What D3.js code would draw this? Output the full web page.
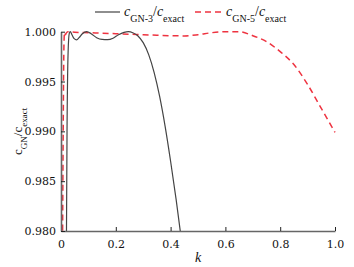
<!DOCTYPE html>
<html>
<head>
<meta charset="utf-8">
<script src="https://cdn.jsdelivr.net/npm/d3@7"></script>
<style>
  body { margin: 0; background: #fff; }
  svg { display: block; }
</style>
</head>
<body>
<div id="chart"></div>
<script>
// GN-3 ratio
const kGN3 = [0.019, 0.022, 0.026, 0.030, 0.034, 0.040, 0.048, 0.057, 0.066, 0.078, 0.094, 0.11, 0.13, 0.15, 0.17, 0.19, 0.21, 0.23, 0.246, 0.262, 0.28, 0.30, 0.32, 0.34, 0.36, 0.38, 0.40, 0.42, 0.44];
const vGN3 = [0.975, 0.990, 0.998, 0.9998, 1.0000, 0.9997, 0.9993, 0.99918, 0.9994, 0.9998, 1.0000, 0.9998, 0.9994, 0.99922, 0.9992, 0.99935, 0.9997, 0.99993, 1.0000, 0.9999, 0.9996, 0.9989, 0.9977, 0.9959, 0.9935, 0.9905, 0.9870, 0.9832, 0.9790];

// GN-5 ratio
const kGN5 = [0.005, 0.008, 0.011, 0.013, 0.016, 0.019, 0.025, 0.05, 0.1, 0.15, 0.2, 0.25, 0.3, 0.35, 0.4, 0.45, 0.5, 0.55, 0.6, 0.65, 0.7, 0.75, 0.8, 0.85, 0.9, 0.95, 1.0];
const vGN5 = [0.975, 0.990, 0.999, 0.99995, 0.9997, 0.99985, 1.0000, 0.99995, 0.9999, 0.99985, 0.9998, 0.99975, 0.9997, 0.99965, 0.9996, 0.99958, 0.9997, 0.9999, 1.0000, 1.0000, 0.9996, 0.9990, 0.9980, 0.9967, 0.9947, 0.9923, 0.9899];

const xTicks = [0, 0.2, 0.4, 0.6, 0.8, 1.0];
const yTicks = [0.980, 0.985, 0.990, 0.995, 1.000];

const W = 354, H = 267;
const margin = { top: 31.7, right: 19, bottom: 36, left: 61 };
const width = W - margin.left - margin.right;
const height = H - margin.top - margin.bottom;
const serif = "Liberation Serif, Times New Roman, serif";
const tickFont = "DejaVu Serif, serif";

const svg = d3.select("#chart").append("svg")
  .attr("width", W)
  .attr("height", H);

const g = svg.append("g")
  .attr("transform", `translate(${margin.left},${margin.top})`);

const x = d3.scaleLinear().domain([0, 1]).range([0, width]);
const y = d3.scaleLinear().domain([0.98, 1.0]).range([height, 0]);

svg.append("defs").append("clipPath").attr("id", "clip")
  .append("rect").attr("x", 0).attr("y", -6).attr("width", width + 2).attr("height", height + 6);

const line = d3.line().x(d => x(d[0])).y(d => y(d[1])).curve(d3.curveMonotoneX);

const plot = g.append("g").attr("clip-path", "url(#clip)");

plot.append("path")
  .datum(kGN5.map((k, i) => [k, vGN5[i]]))
  .attr("fill", "none")
  .attr("stroke", "#ee3340")
  .attr("stroke-width", 1.5)
  .attr("stroke-dasharray", "6,4")
  .attr("d", line);

plot.append("path")
  .datum(kGN3.map((k, i) => [k, vGN3[i]]))
  .attr("fill", "none")
  .attr("stroke", "#444")
  .attr("stroke-width", 1.2)
  .attr("d", line);

// axes, ticks point inward
const xAxis = g.append("g")
  .attr("transform", `translate(0,${height})`)
  .call(d3.axisBottom(x).tickValues(xTicks).tickSize(-4).tickSizeOuter(0)
    .tickPadding(7).tickFormat(d => d === 0 ? "0" : d3.format(".1f")(d)));

const yAxis = g.append("g")
  .call(d3.axisLeft(y).tickValues(yTicks).tickSize(-4).tickSizeOuter(0)
    .tickPadding(5).tickFormat(d3.format(".3f")));

[xAxis, yAxis].forEach(a => {
  a.select(".domain").attr("stroke", "#666").attr("stroke-width", 1.6);
  a.selectAll(".tick line").attr("stroke", "#222");
  a.selectAll(".tick text")
    .style("font-family", tickFont)
    .style("font-size", "11px")
    .attr("fill", "#111");
});
xAxis.selectAll(".tick text").attr("dy", "0.9em");

// axis titles
svg.append("text")
  .attr("x", 198).attr("y", 262)
  .attr("text-anchor", "middle")
  .style("font-family", serif).style("font-size", "14px").style("font-style", "italic")
  .attr("fill", "#111")
  .text("k");

const yl = svg.append("text")
  .attr("transform", `translate(22,${margin.top + height / 2}) rotate(-90)`)
  .attr("text-anchor", "middle")
  .style("font-family", serif).style("font-size", "13px")
  .attr("fill", "#111");
yl.append("tspan").text("c");
yl.append("tspan").attr("baseline-shift", "sub").style("font-size", "9px").text("GN");
yl.append("tspan").text("/c");
yl.append("tspan").attr("baseline-shift", "sub").style("font-size", "9px").text("exact");

// legend
const legend = [
  { name: "GN-3", x0: 95, x1: 120, tx: 124, color: "#444", dash: null, w: 1.2 },
  { name: "GN-5", x0: 195, x1: 222, tx: 226, color: "#ee3340", dash: "6,4", w: 1.5 }
];
legend.forEach(d => {
  svg.append("line")
    .attr("x1", d.x0).attr("x2", d.x1).attr("y1", 12).attr("y2", 12)
    .attr("stroke", d.color).attr("stroke-width", d.w)
    .attr("stroke-dasharray", d.dash);
  const t = svg.append("text")
    .attr("x", d.tx).attr("y", 16)
    .style("font-family", serif).style("font-size", "14px")
    .attr("fill", "#111");
  t.append("tspan").style("font-style", "italic").text("c");
  t.append("tspan").attr("baseline-shift", "sub").style("font-size", "10px").text(d.name);
  t.append("tspan").text("/");
  t.append("tspan").style("font-style", "italic").text("c");
  t.append("tspan").attr("baseline-shift", "sub").style("font-size", "10px").text("exact");
});
</script>
</body>
</html>
